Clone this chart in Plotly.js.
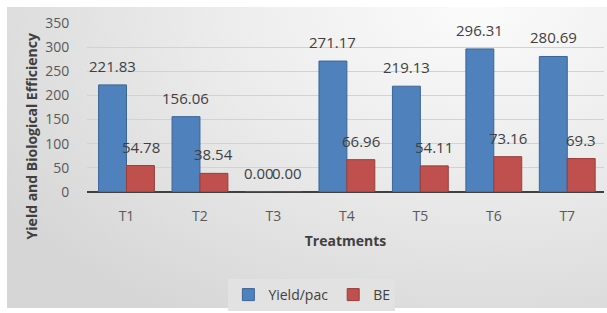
<!DOCTYPE html>
<html>
<head>
<meta charset="utf-8">
<script src="https://cdn.plot.ly/plotly-3.0.1.min.js"></script>
<style>
  html, body { margin:0; padding:0; background:#ffffff; }
  #wrap { position:relative; width:607px; height:313px; }
  #bg { position:absolute; left:7px; top:7px; width:600px; height:301px;
        background: radial-gradient(ellipse 95% 120% at 78% 0%, #fbfbfb 0%, #ececec 45%, #d6d6d6 100%); }
  #chart { position:absolute; left:0; top:0; width:607px; height:313px; }
</style>
</head>
<body>
<div id="wrap"><div id="bg"></div><div id="chart"></div></div>
<script>
const categories = ['T1','T2','T3','T4','T5','T6','T7'];
const yieldPac = [221.83, 156.06, 0.00, 271.17, 219.13, 296.31, 280.69];
const be = [54.78, 38.54, 0.00, 66.96, 54.11, 73.16, 69.3];
const seriesNames = ['Yield/pac', 'BE'];
const yTicks = [0, 50, 100, 150, 200, 250, 300, 350];
const xTitle = 'Treatments';
const yTitle = 'Yield and Biological Efficiency';

const FONT = '"Open Sans", "Noto Sans", sans-serif';
const fmt = v => (v === 0 ? '0.00' : String(v));

const traces = [
  { type:'bar', name:seriesNames[0], x:categories, y:yieldPac,
    marker:{ color:'#4f81bd', line:{ color:'#3b6597', width:1 } }, hoverinfo:'none' },
  { type:'bar', name:seriesNames[1], x:categories, y:be,
    marker:{ color:'#c0504d', line:{ color:'#973e3b', width:1 } }, hoverinfo:'none' }
];

const annotations = [];
categories.forEach((c, i) => {
  annotations.push({ x:c, y:yieldPac[i], xref:'x', yref:'y', text:fmt(yieldPac[i]),
    showarrow:false, xshift:-14, yshift:19, yanchor:'middle',
    font:{ family:FONT, size:15, color:'#404040' } });
  annotations.push({ x:c, y:be[i], xref:'x', yref:'y', text:fmt(be[i]),
    showarrow:false, xshift:14, yshift:19, yanchor:'middle',
    font:{ family:FONT, size:15, color:'#404040' } });
});
annotations.push({ x:-0.108, y:0.33, xref:'paper', yref:'paper', text:yTitle,
  textangle:-90, showarrow:false, xanchor:'center', yanchor:'middle',
  font:{ family:FONT, size:14, color:'#404040', weight:'bold' } });

const layout = {
  width:607, height:313,
  margin:{ l:87, r:3, t:23, b:120 },
  paper_bgcolor:'rgba(0,0,0,0)', plot_bgcolor:'rgba(0,0,0,0)',
  barmode:'group', bargap:0.24, bargroupgap:0,
  showlegend:true,
  legend:{ orientation:'h', x:0.435, xanchor:'center', y:-0.6, yanchor:'middle',
    bgcolor:'#e2e2e2', font:{ family:FONT, size:14, color:'#404040' },
    itemwidth:30, tracegroupgap:0 },
  xaxis:{ type:'category', showgrid:false, showline:false, zeroline:false,
    ticks:'outside', ticklen:11, tickcolor:'rgba(0,0,0,0)',
    tickfont:{ family:FONT, size:14, color:'#595959' },
    title:{ text:xTitle, standoff:12, font:{ family:FONT, size:14, color:'#404040', weight:'bold' } } },
  yaxis:{ range:[0,350], tickvals:yTicks, showgrid:true, gridcolor:'#d2d2d2', gridwidth:1,
    zeroline:true, zerolinecolor:'#404040', zerolinewidth:2, showline:false,
    ticks:'outside', ticklen:14, tickcolor:'rgba(0,0,0,0)',
    tickfont:{ family:FONT, size:14, color:'#595959' } },
  annotations:annotations
};

Plotly.newPlot('chart', traces, layout, { staticPlot:true, displayModeBar:false });
</script>
</body>
</html>
